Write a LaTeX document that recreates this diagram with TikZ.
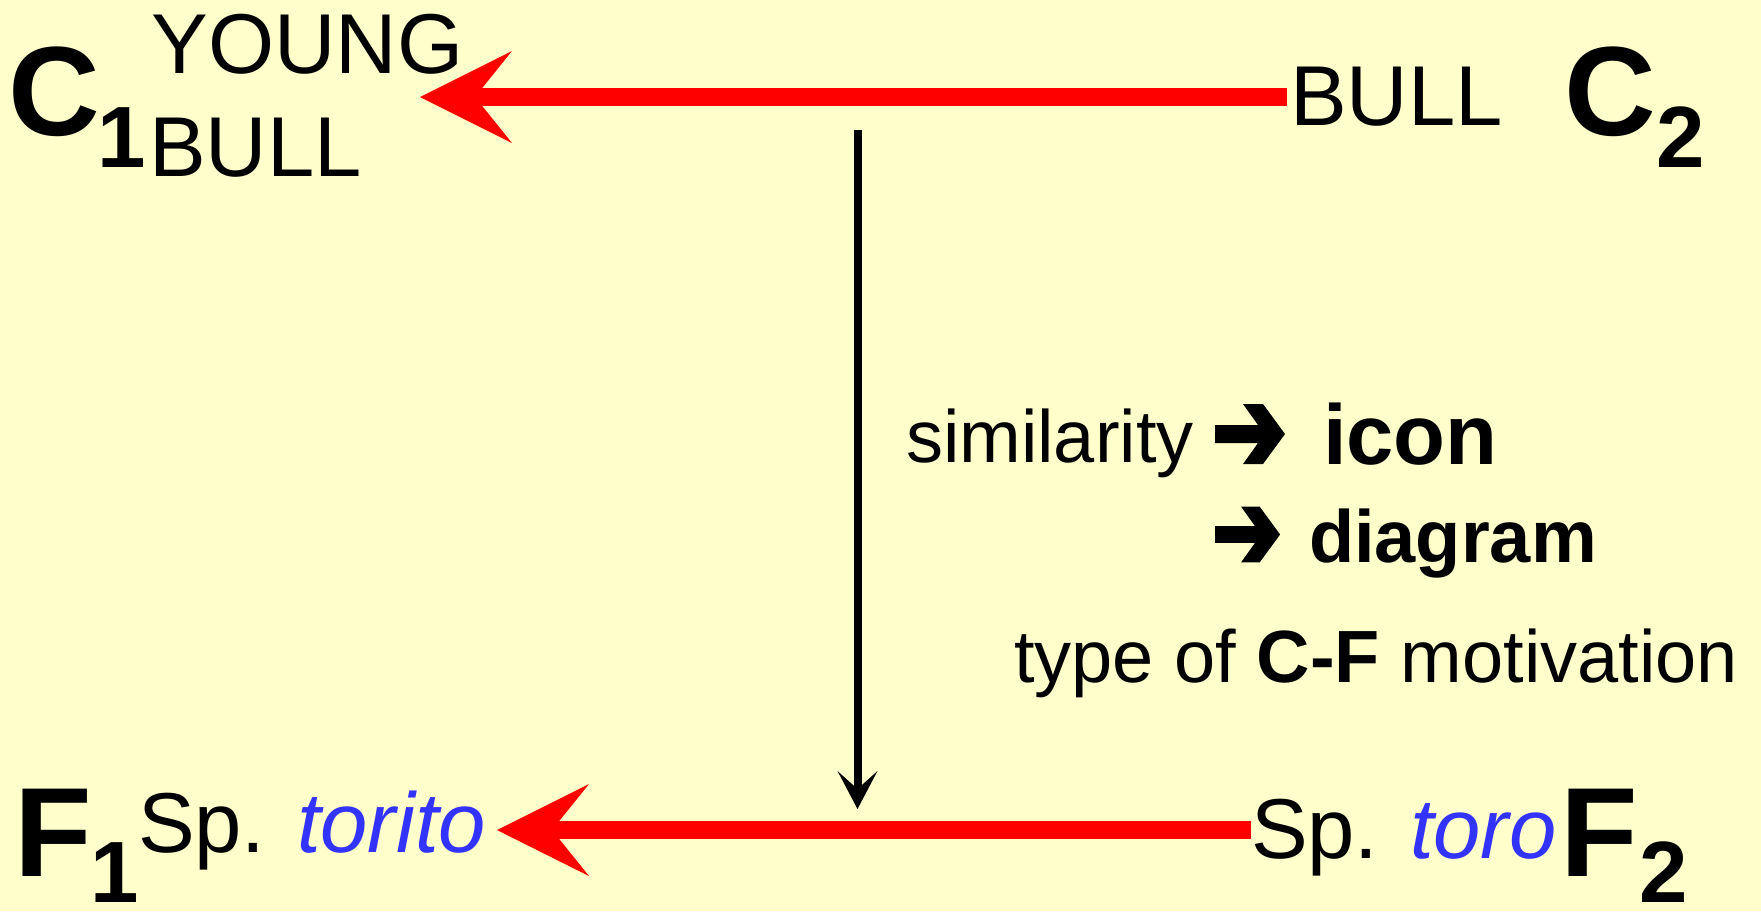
\documentclass[tikz,border=0pt]{standalone}
\usepackage{fontspec}
\setmainfont{Liberation Sans}
\usetikzlibrary{arrows.meta}
\definecolor{bgyellow}{RGB}{255,255,204}
\definecolor{redline}{RGB}{255,0,0}
\definecolor{bluetxt}{RGB}{51,51,255}
\begin{document}
\begin{tikzpicture}[x=0.5pt,y=-0.5pt,
  txt/.style={anchor=base west, inner sep=0pt, outer sep=0pt, font=\fontsize{37}{40}\selectfont},
  boldtxt/.style={txt, font=\fontsize{37}{40}\bfseries\selectfont},
  lbl/.style={anchor=base west, inner sep=0pt, outer sep=0pt, font=\fontsize{42.5}{45}\selectfont},
  big/.style={anchor=base west, inner sep=0pt, outer sep=0pt, text depth=0pt, font=\fontsize{63.5}{70}\bfseries\selectfont},
  subs/.style={anchor=base west, inner sep=0pt, outer sep=0pt, text depth=0pt, font=\fontsize{43.5}{48}\bfseries\selectfont},
  redarrow/.style={draw=redline, line width=9pt, -{Stealth[length=46pt,width=46pt,inset=18.5pt,line width=0pt,fill=redline]}},
  blackarrow/.style={draw=black, line width=4pt, -{Stealth[length=19pt,width=20pt,inset=9pt,line width=0pt]}},
  chev/.pic={\fill (0,-9) -- (43,-9) -- (28,-30) -- (48,-30) -- (70,0) -- (48,30) -- (28,30) -- (43,9) -- (0,9) -- cycle;}
]
\useasboundingbox (0,0) rectangle (1761,911);
\fill[bgyellow] (0,0) rectangle (1761,911);

% top row
\node[big] (c1) at (9,135) {C};
\node[subs] (c1s) at (97.5,167) {1};
\node[lbl] (young) at (151.5,73) {YOUNG};
\node[lbl] (bullL) at (149,176) {BULL};
\node[lbl] (bullR) at (1290,125) {BULL};
\node[big] (c2) at (1564,135) {C};
\node[subs] (c2s) at (1656,167) {2};

% bottom row
\node[big] (f1) at (14,876) {F};
\node[subs] (f1s) at (90.5,902) {1};
\node[lbl] (spL) at (138,852) {Sp. \textcolor{bluetxt}{\itshape torito}};
\node[lbl] (spR) at (1251,858) {Sp. \textcolor{bluetxt}{\itshape toro}};
\node[big] (f2) at (1560,876) {F};
\node[subs] (f2s) at (1639,902) {2};

% middle text
\node[txt] (sim) at (906,462) {similarity};
\pic at (1215,434) {chev};
\node[txt, font=\fontsize{42.5}{45}\bfseries\selectfont] (icon) at (1323,464) {icon};
\pic[scale=0.93] at (1215,534.5) {chev};
\node[boldtxt] (diag) at (1309,562) {diagram};
\node[txt] (type) at (1014,682) {type of \textbf{C-F} motivation};

% connectors
\coordinate (ta) at (1287,97);
\coordinate (tb) at (420,97);
\draw[redarrow] (ta) -- (tb);
\coordinate (ba) at (1251,830);
\coordinate (bb) at (497,830);
\draw[redarrow] (ba) -- (bb);
\coordinate (va) at (857.5,130);
\coordinate (vb) at (857.5,809);
\draw[blackarrow] (va) -- (vb);
\end{tikzpicture}
\end{document}
